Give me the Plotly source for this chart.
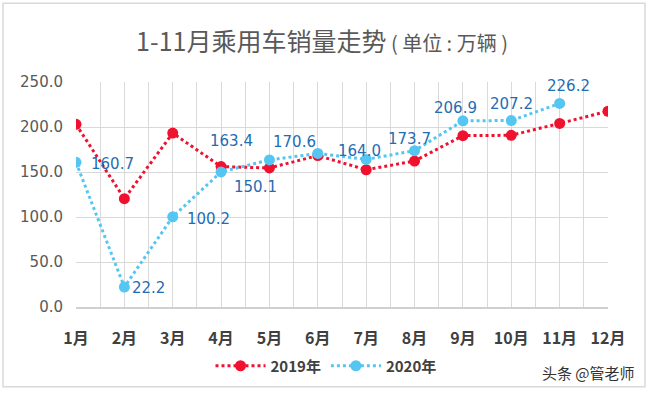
import plotly.graph_objects as go

months = ["1月", "2月", "3月", "4月", "5月", "6月", "7月", "8月", "9月", "10月", "11月", "12月"]
sales_2019 = [203.0, 120.4, 193.2, 156.0, 154.5, 168.2, 152.5, 162.2, 190.4, 190.8, 204.0, 217.5]
sales_2020 = [160.7, 22.2, 100.2, 150.1, 163.4, 170.6, 164.0, 173.7, 206.9, 207.2, 226.2]
yticks = [0, 50, 100, 150, 200, 250]

x19 = list(range(1, len(sales_2019) + 1))
x20 = list(range(1, len(sales_2020) + 1))

RED = "#F0112F"
BLUE = "#55C6F2"
FONT = "DejaVu Sans, Noto Sans CJK SC, sans-serif"

fig = go.Figure()
fig.add_trace(go.Scatter(
    x=x19, y=sales_2019, name="2019年", mode="lines+markers",
    line=dict(color=RED, width=3, dash="dot"),
    marker=dict(color=RED, size=11),
))
fig.add_trace(go.Scatter(
    x=x20, y=sales_2020, name="2020年", mode="lines+markers",
    line=dict(color=BLUE, width=3, dash="dot"),
    marker=dict(color=BLUE, size=11),
))

# label offsets (pixels) relative to each point
label_shift = [(36, -2), (24, -1), (36, -2), (34, -15), (-38, 19), (-23, 11),
               (-7, 8), (-5, 12), (-7, 13), (0, 17), (9, 17)]

L, R, T, B = 76, 41, 82, 85
W, H = 649, 393
pw, ph = W - L - R, H - T - B
def px(p):
    return (p - L) / pw
def py(p):
    return (H - B - p) / ph

annotations = []
for i, v in enumerate(sales_2020):
    dx, dy = label_shift[i]
    annotations.append(dict(
        x=x20[i], y=v, xref="x", yref="y", text=f"{v:.1f}",
        showarrow=False, xshift=dx, yshift=dy,
        font=dict(family=FONT, size=15, color="#1F6DB3"),
    ))
annotations.append(dict(
    x=px(588), y=py(374), xref="paper", yref="paper", text="头条 @管老师",
    showarrow=False, font=dict(family="Noto Sans CJK SC", size=15, color="#333333"),
    xanchor="center", yanchor="middle",
))

fig.update_layout(
    width=W, height=H,
    margin=dict(l=L, r=R, t=T, b=B),
    paper_bgcolor="white", plot_bgcolor="white",
    title=dict(
        text="1-11月乘用车销量走势<span style='font-size:20px'> ( 单位 : 万辆 )</span>",
        x=322 / W, xanchor="center", y=1 - 42 / H, yanchor="middle",
        yref="container", xref="container",
        font=dict(family="Noto Sans CJK SC", size=25, color="#595959"),
    ),
    showlegend=True,
    legend=dict(
        orientation="h", x=px(326), xanchor="center", y=py(366), yanchor="middle",
        font=dict(family="Noto Sans CJK SC", size=15, color="#404040", weight="bold"),
        itemwidth=50, bgcolor="rgba(0,0,0,0)",
    ),
    xaxis=dict(
        range=[1, 12], tickvals=x19, ticktext=months,
        showgrid=True, gridcolor="#D9D9D9", gridwidth=1,
        minor=dict(tickvals=[i + 0.5 for i in range(1, 12)], showgrid=True, gridcolor="#D9D9D9"),
        showline=True, linecolor="#D0D0D0", linewidth=1.5,
        zeroline=False, ticks="", ticklabelstandoff=16,
        tickfont=dict(family="Noto Sans CJK SC", size=16, color="#404040", weight="bold"),
    ),
    yaxis=dict(
        range=[0, 250], tickvals=yticks, ticktext=[f"{v:.1f}" for v in yticks],
        showgrid=True, gridcolor="#D9D9D9", gridwidth=1,
        zeroline=False, showline=False, ticks="", ticklabelstandoff=12,
        tickfont=dict(family=FONT, size=15, color="#595959"),
    ),
    annotations=annotations,
    shapes=[dict(
        type="rect", xref="paper", yref="paper",
        x0=px(3), x1=px(645), y0=py(388), y1=py(3),
        line=dict(color="#D9D9D9", width=1.5), fillcolor="rgba(0,0,0,0)", layer="below",
    )],
)

fig.write_html(
    "out.html",
    config={"displayModeBar": False},
    post_script="document.body.style.margin='0';document.documentElement.style.overflow='hidden';",
)
